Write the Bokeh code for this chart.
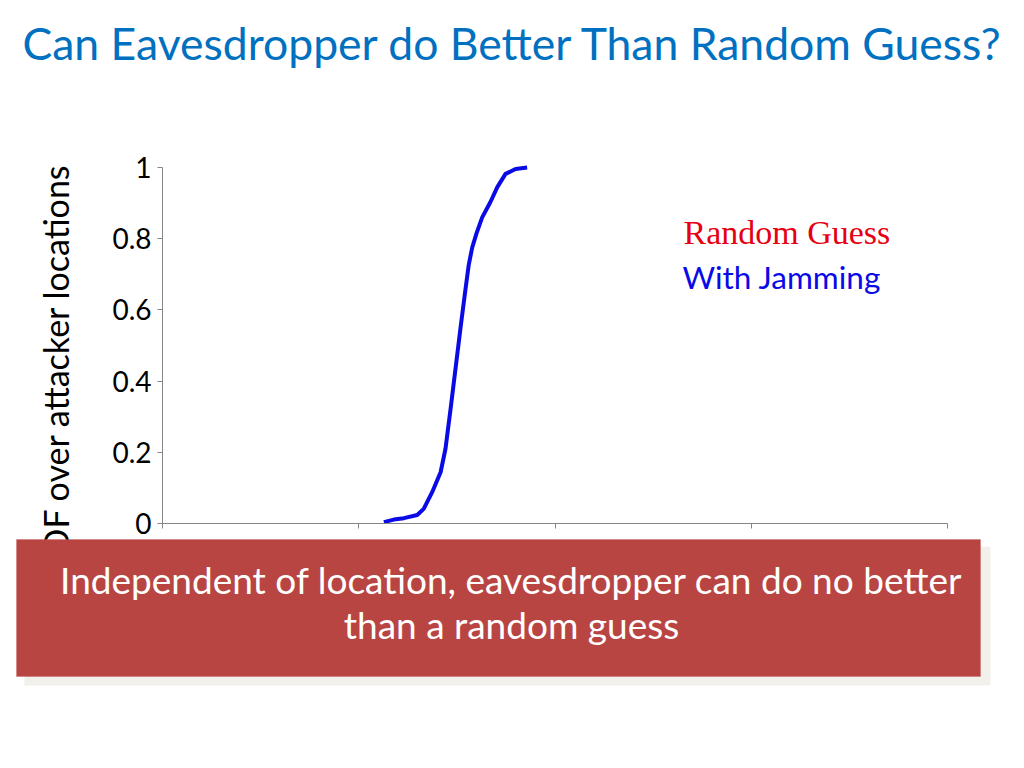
from bokeh.plotting import figure
from bokeh.models import Range1d, FixedTicker, NumeralTickFormatter, Label, BoxAnnotation, CustomJSTickFormatter
from bokeh.embed import file_html
from bokeh.resources import INLINE

# ---- data ----
title_text = "Can Eavesdropper do Better Than Random Guess?"
y_label = "CDF over attacker  locations"
legend_labels = ["Random Guess", "With Jamming"]
callout_lines = ["Independent of location, eavesdropper can do no better",
                 "than a random guess"]

x_ticks = [0, 1, 2, 3, 4]
y_ticks = [0, 0.2, 0.4, 0.6, 0.8, 1.0]

jam_x = [1.128, 1.179, 1.230, 1.298, 1.331, 1.374, 1.417, 1.442, 1.468, 1.493,
         1.518, 1.544, 1.560, 1.578, 1.600, 1.629, 1.671, 1.706, 1.748, 1.799, 1.858]
jam_y = [0.004, 0.011, 0.015, 0.024, 0.041, 0.088, 0.144, 0.210, 0.322, 0.435,
         0.547, 0.659, 0.725, 0.775, 0.815, 0.860, 0.903, 0.945, 0.982, 0.996, 1.000]

W, H = 1008, 752
# plot area on the page (pixels)
AX_L, AX_R, AX_T, AX_B = 162, 947, 167, 523
xs = (AX_R - AX_L) / (x_ticks[-1] - x_ticks[0])
ys = (AX_B - AX_T) / (y_ticks[-1] - y_ticks[0])
x_range = Range1d(x_ticks[0] - AX_L / xs, x_ticks[-1] + (W - AX_R) / xs)
y_range = Range1d(y_ticks[0] - (H - AX_B) / ys, y_ticks[-1] + AX_T / ys)

p = figure(width=W, height=H, output_backend="svg", toolbar_location=None,
           x_range=x_range, y_range=y_range, min_border=0)
p.outline_line_color = None
p.grid.visible = False
p.background_fill_color = "white"
p.border_fill_color = "white"

axis_col = "#868686"
for ax in (p.xaxis, p.yaxis):
    ax.axis_line_color = axis_col
    ax.major_tick_line_color = axis_col
    ax.minor_tick_line_color = None
    ax.major_tick_out = 5
    ax.major_tick_in = 0
    ax.fixed_location = 0

p.xaxis.bounds = (x_ticks[0], x_ticks[-1])
p.yaxis.bounds = (y_ticks[0], y_ticks[-1])
p.xaxis.ticker = FixedTicker(ticks=x_ticks)
p.xaxis.formatter = CustomJSTickFormatter(code="return ''")
p.yaxis.ticker = FixedTicker(ticks=y_ticks)
p.yaxis.formatter = NumeralTickFormatter(format="0.[0]")
p.yaxis.major_label_text_font = "Lato"
p.yaxis.major_label_text_font_size = "28px"
p.yaxis.major_label_text_color = "black"
p.yaxis.major_label_standoff = 6

p.line(jam_x, jam_y, line_color="#0A0AE6", line_width=4, line_join="round")

# ---- slide texts (canvas pixel units, y from top) ----
def lab(**kw):
    p.add_layout(Label(x_units="canvas", y_units="canvas", **kw))

lab(x=22, y=42, text=title_text, text_font="Lato", text_font_size="44.5px",
    text_color="#0070C0", text_baseline="alphabetic", text_align="left")
lab(x=55, y=154, text=y_label, angle=1.5708, text_font="Lato", text_font_size="34px",
    text_color="black", text_baseline="alphabetic", text_align="right")
lab(x=683, y=232, text=legend_labels[0], text_font="Liberation Serif",
    text_font_size="34px", text_color="#E60012", text_baseline="alphabetic")
lab(x=682, y=276, text=legend_labels[1], text_font="Lato",
    text_font_size="31.5px", text_color="#0A0AE6", text_baseline="alphabetic")

# callout box with shadow
p.add_layout(BoxAnnotation(left=24, right=990, top=546, bottom=685,
                           left_units="canvas", right_units="canvas",
                           top_units="canvas", bottom_units="canvas",
                           fill_color="#F1F0EA", fill_alpha=1.0, line_color=None))
p.add_layout(BoxAnnotation(left=16, right=980, top=539, bottom=676,
                           left_units="canvas", right_units="canvas",
                           top_units="canvas", bottom_units="canvas",
                           fill_color="#B94543", fill_alpha=1.0,
                           line_color="#C25A57", line_width=1))
lab(x=511, y=579, text=callout_lines[0], text_font="Lato", text_font_size="37px",
    text_color="white", text_align="center", text_baseline="alphabetic")
lab(x=511, y=624, text=callout_lines[1], text_font="Lato", text_font_size="37px",
    text_color="white", text_align="center", text_baseline="alphabetic")

open("out.html", "w").write(file_html(p, INLINE))
